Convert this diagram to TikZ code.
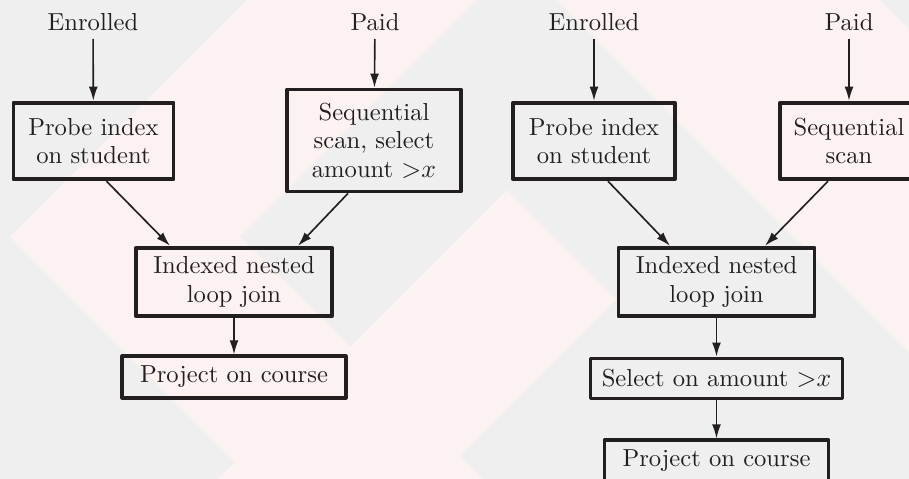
\documentclass[tikz,border=0pt]{standalone}
\usetikzlibrary{arrows.meta,calc}
\definecolor{bggray}{HTML}{EFEFEF}
\definecolor{bgpink}{HTML}{FCF2F2}
\definecolor{ink}{HTML}{231F20}
\begin{document}
\begin{tikzpicture}[x=0.015cm, y=-0.015cm, font=\fontsize{10.5pt}{12.2pt}\selectfont, line join=round, >={Latex[length=6pt,width=3.8pt]},
	opbox/.style={draw=ink, line width=1.6pt, align=center, inner sep=0pt, text=ink},
	lbl/.style={text=ink},
	flow/.style={->, draw=ink, line width=0.7pt}]
	\useasboundingbox (0,0) rectangle (909,479);
	% faint backdrop
	\fill[bggray] (0,0) rectangle (909,479);
	\fill[bgpink] (247,0)--(477,0)--(240,237)--(482,479)--(252,479)--(10,237)--cycle;
	\fill[bgpink] (507,190)--(616,299)--(436,479)--(218,479)--cycle;
	\fill[bgpink] (557,0)--(880,0)--(909,29)--(909,352)--cycle;
	
	% plan with early selection
	\node[lbl] (enrA) at (93,22) {Enrolled};
	\node[lbl] (paidA) at (375,22) {Paid};
	\node[opbox, minimum width=2.4cm, minimum height=1.15cm] (probeA) at (93.5,141) {Probe index\\on student};
	\node[opbox, minimum width=2.6cm, minimum height=1.53cm] (scanA) at (374,140.5) {Sequential\\scan, select\\amount ${>}x$};
	\node[opbox, minimum width=2.93cm, minimum height=1.03cm] (joinA) at (234,282) {Indexed nested\\loop join};
	\node[opbox, minimum width=3.35cm, minimum height=0.62cm] (projA) at (234,377) {Project on course};
	
	% plan with late selection
	\node[lbl] (enrB) at (594,22) {Enrolled};
	\node[lbl] (paidB) at (849,22) {Paid};
	\node[opbox, minimum width=2.42cm, minimum height=1.15cm] (probeB) at (594,141) {Probe index\\on student};
	\node[opbox, minimum width=2.06cm, minimum height=1.15cm] (scanB) at (849,141) {Sequential\\scan};
	\node[opbox, minimum width=2.94cm, minimum height=1.03cm] (joinB) at (716.5,282) {Indexed nested\\loop join};
	\node[opbox, minimum width=3.78cm, minimum height=0.6cm] (selB) at (716.5,378.5) {Select on amount ${>}x$};
	\node[opbox, minimum width=3.36cm, minimum height=0.62cm] (projB) at (716.5,461) {Project on course};
	
	\foreach \a/\b in {enrA/probeA, paidA/scanA, joinA/projA, enrB/probeB, paidB/scanB, joinB/selB, selB/projB}
	\draw[flow] (\a) -- (\b);
	\draw[flow] ($(probeA.south)+(13,0)$) -- ($(joinA.north)+(-64,0)$);
	\draw[flow] ($(scanA.south)+(-26,0)$) -- ($(joinA.north)+(64,0)$);
	\draw[flow] ($(probeB.south)+(14,0)$) -- ($(joinB.north)+(-46.5,0)$);
	\draw[flow] ($(scanB.south)+(-21,0)$) -- ($(joinB.north)+(48.5,0)$);
\end{tikzpicture}
\end{document}
